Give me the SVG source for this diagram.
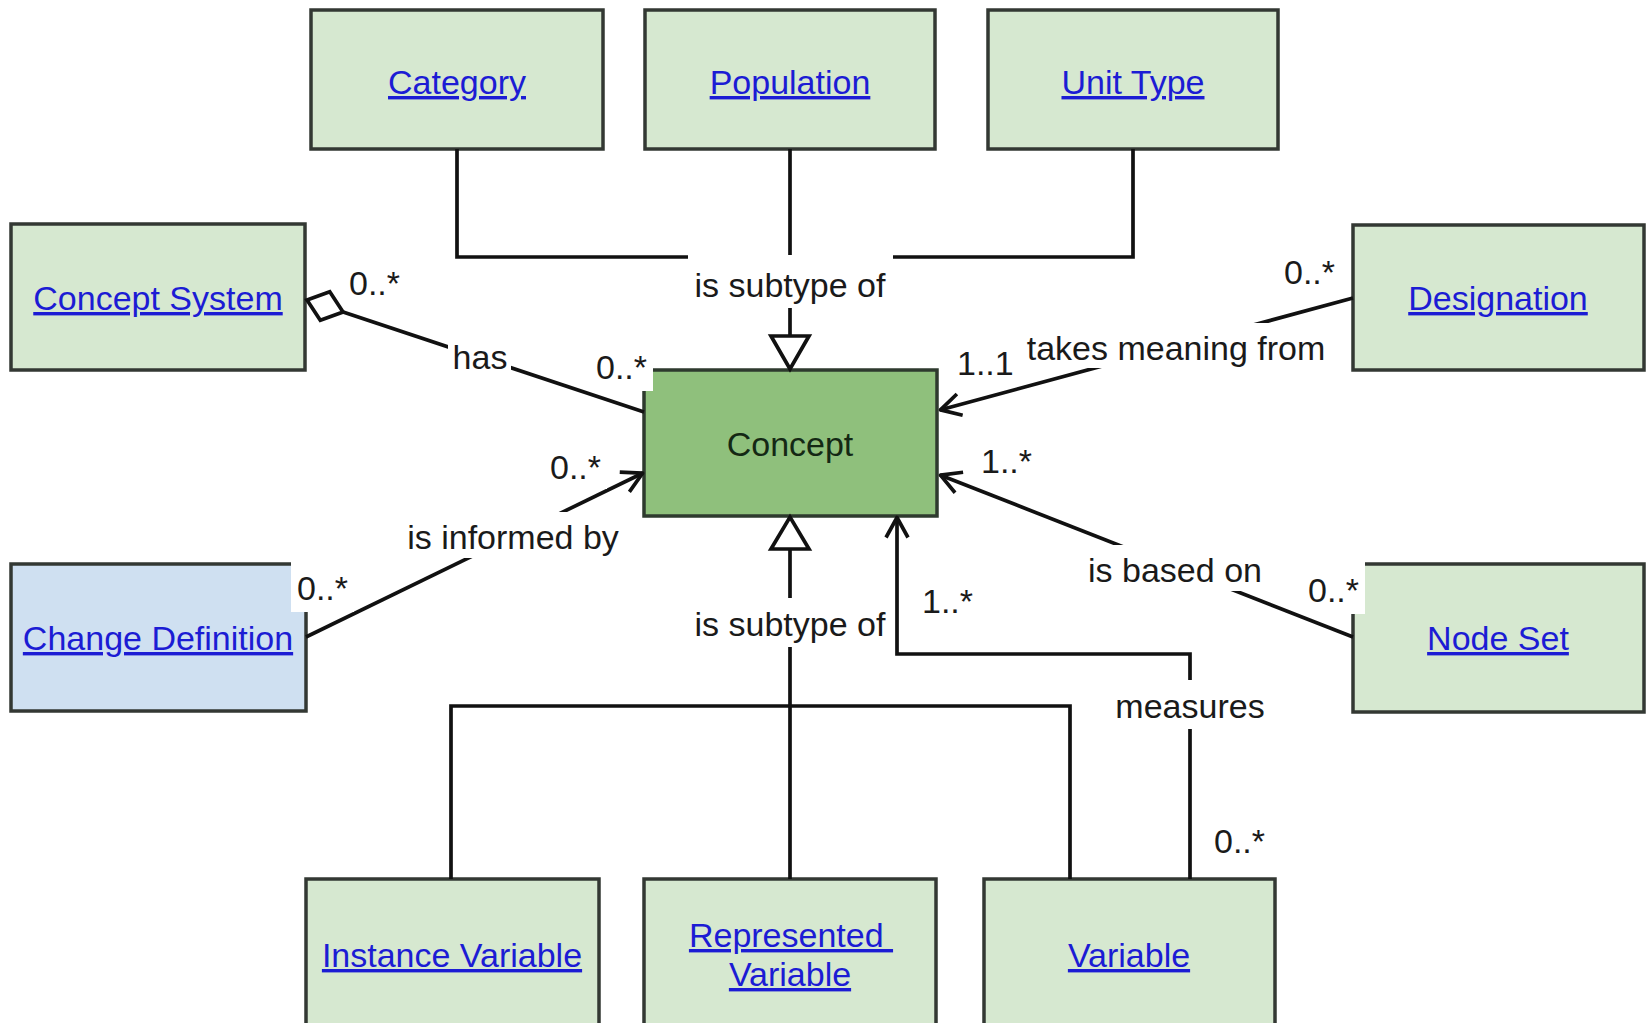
<svg xmlns="http://www.w3.org/2000/svg" width="1648" height="1023" viewBox="0 0 1648 1023">
  <defs>
    <style>
      text { font-family: "Liberation Sans", Arial, Helvetica, sans-serif; font-size: 34px; }
      .cls { fill: #d6e8d0; stroke: #333833; stroke-width: 3.5; }
      .core { fill: #8fc07c; stroke: #2e3a2e; stroke-width: 3.5; }
      .chg { fill: #cfe0f1; stroke: #333833; stroke-width: 3.5; }
      .link { fill: #1c1cd4; text-decoration: underline; text-anchor: middle; }
      .name { fill: #142814; text-anchor: middle; }
      .edge { fill: none; stroke: #111; stroke-width: 3.7; }
      .tri { fill: #fff; stroke: #111; stroke-width: 3.7; stroke-linejoin: miter; }
      .bg { fill: #fff; }
      .lbl { fill: #1a1a1a; }
      .mid { text-anchor: middle; }
    </style>
    <!-- open "V" arrowhead for navigable associations -->
    <marker id="arrow-open" viewBox="0 0 26 26" refX="21.5" refY="13" markerWidth="26" markerHeight="26" markerUnits="userSpaceOnUse" orient="auto">
      <path d="M1,2 L21,13 L1,24" fill="none" stroke="#111" stroke-width="3.7" stroke-linejoin="round"/>
    </marker>
    <!-- hollow diamond for aggregation -->
    <marker id="diamond-open" viewBox="-3 -19 46 38" refX="0" refY="0" markerWidth="46" markerHeight="38" markerUnits="userSpaceOnUse" orient="auto">
      <path d="M0,0 L19,-15 L38,0 L19,15 Z" fill="#fff" stroke="#111" stroke-width="3.7"/>
    </marker>
  </defs>

  <rect x="0" y="0" width="1648" height="1023" fill="#fff"/>

  <!-- classes -->
  <g id="nodes">
    <g id="node-category">
      <rect class="cls" x="311" y="10" width="292" height="139"/>
      <text class="link" x="457" y="94">Category</text>
    </g>
    <g id="node-population">
      <rect class="cls" x="645" y="10" width="290" height="139"/>
      <text class="link" x="790" y="94">Population</text>
    </g>
    <g id="node-unit-type">
      <rect class="cls" x="988" y="10" width="290" height="139"/>
      <text class="link" x="1133" y="94">Unit Type</text>
    </g>
    <g id="node-concept-system">
      <rect class="cls" x="11" y="224" width="294" height="146"/>
      <text class="link" x="158" y="310">Concept System</text>
    </g>
    <g id="node-designation">
      <rect class="cls" x="1353" y="225" width="291" height="145"/>
      <text class="link" x="1498" y="310">Designation</text>
    </g>
    <g id="node-concept">
      <rect class="core" x="644" y="370" width="293" height="146"/>
      <text class="name" x="790" y="456">Concept</text>
    </g>
    <g id="node-change-definition">
      <rect class="chg" x="11" y="564" width="295" height="147"/>
      <text class="link" x="158" y="650">Change Definition</text>
    </g>
    <g id="node-node-set">
      <rect class="cls" x="1353" y="564" width="291" height="148"/>
      <text class="link" x="1498" y="650">Node Set</text>
    </g>
    <g id="node-instance-variable">
      <rect class="cls" x="306" y="879" width="293" height="150"/>
      <text class="link" x="452" y="967">Instance Variable</text>
    </g>
    <g id="node-represented-variable">
      <rect class="cls" x="644" y="879" width="292" height="150"/>
      <text class="link" x="791" y="947">Represented&#160;</text>
      <text class="link" x="790" y="986">Variable</text>
    </g>
    <g id="node-variable">
      <rect class="cls" x="984" y="879" width="291" height="150"/>
      <text class="link" x="1129" y="967">Variable</text>
    </g>
  </g>

  <!-- associations and generalisations -->
  <g id="connectors">
    <!-- Category / Population / Unit Type generalise to Concept -->
    <g id="edge-subtype-top">
      <path class="edge" d="M457,149 V257 H1133 V149"/>
      <path class="edge" d="M790,149 V336"/>
      <polygon class="tri" points="771,336 809,336 790,369"/>
      <rect class="bg" x="688" y="255" width="205" height="53"/>
      <text class="lbl mid" x="790" y="297">is subtype of</text>
    </g>

    <!-- Concept System has Concept -->
    <g id="edge-has">
      <path class="edge" d="M307,300 L644,412" marker-start="url(#diamond-open)"/>
      <rect class="bg" x="448" y="332" width="63" height="46"/>
      <text class="lbl mid" x="480" y="369">has</text>
      <rect class="bg" x="343" y="255" width="63" height="46"/>
      <text class="lbl" x="349" y="295">0..*</text>
      <rect class="bg" x="590" y="339" width="63" height="52"/>
      <text class="lbl" x="596" y="379">0..*</text>
    </g>

    <!-- Designation takes meaning from Concept -->
    <g id="edge-takes-meaning">
      <path class="edge" d="M1353,298 L940,410" marker-end="url(#arrow-open)"/>
      <rect class="bg" x="1021" y="323" width="311" height="45"/>
      <text class="lbl mid" x="1176" y="360">takes meaning from</text>
      <rect class="bg" x="1278" y="244" width="63" height="52"/>
      <text class="lbl" x="1284" y="284">0..*</text>
      <rect class="bg" x="951" y="335" width="66" height="48"/>
      <text class="lbl" x="957" y="375">1..1</text>
    </g>

    <!-- Change Definition informs Concept -->
    <g id="edge-informed-by">
      <path class="edge" d="M306,637 L643,473" marker-end="url(#arrow-open)"/>
      <rect class="bg" x="401" y="512" width="224" height="46"/>
      <text class="lbl mid" x="513" y="549">is informed by</text>
      <rect class="bg" x="544" y="441" width="63" height="48"/>
      <text class="lbl" x="550" y="479">0..*</text>
      <rect class="bg" x="291" y="560" width="63" height="52"/>
      <text class="lbl" x="297" y="600">0..*</text>
    </g>

    <!-- Node Set is based on Concept -->
    <g id="edge-based-on">
      <path class="edge" d="M1353,637 L940,475" marker-end="url(#arrow-open)"/>
      <rect class="bg" x="1083" y="545" width="184" height="46"/>
      <text class="lbl mid" x="1175" y="582">is based on</text>
      <rect class="bg" x="975" y="437" width="60" height="44"/>
      <text class="lbl" x="981" y="473">1..*</text>
      <rect class="bg" x="1302" y="562" width="63" height="52"/>
      <text class="lbl" x="1308" y="602">0..*</text>
    </g>

    <!-- Instance / Represented / Variable generalise to Concept -->
    <g id="edge-subtype-bottom">
      <path class="edge" d="M451,879 V706 H1070 V879"/>
      <path class="edge" d="M790,879 V549"/>
      <polygon class="tri" points="771,549 809,549 790,517"/>
      <rect class="bg" x="688" y="598" width="205" height="49"/>
      <text class="lbl mid" x="790" y="636">is subtype of</text>
    </g>

    <!-- Variable measures Concept -->
    <g id="edge-measures">
      <path class="edge" d="M1190,879 V654 H897 V517" marker-end="url(#arrow-open)"/>
      <rect class="bg" x="1112" y="680" width="157" height="49"/>
      <text class="lbl mid" x="1190" y="718">measures</text>
      <rect class="bg" x="916" y="577" width="60" height="46"/>
      <text class="lbl" x="922" y="613">1..*</text>
      <rect class="bg" x="1208" y="816" width="63" height="48"/>
      <text class="lbl" x="1214" y="853">0..*</text>
    </g>
  </g>
</svg>
